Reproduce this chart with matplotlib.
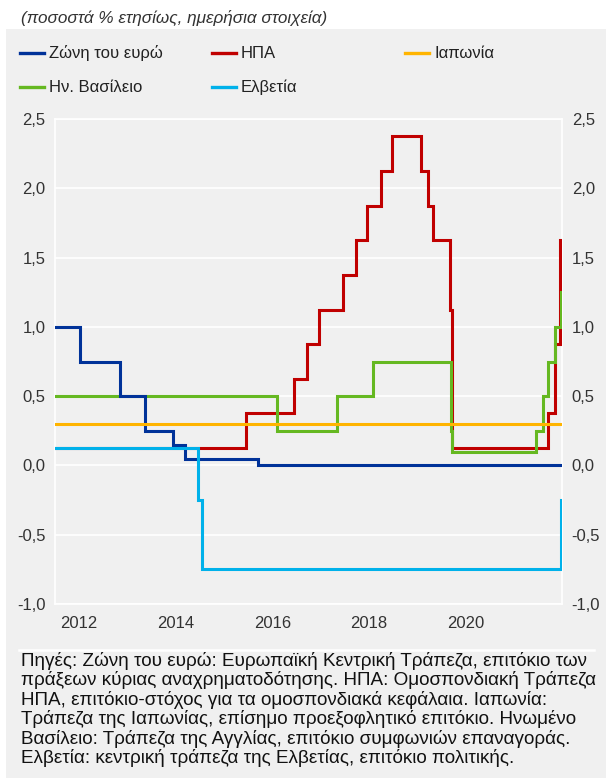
import matplotlib
matplotlib.use("Agg")
import matplotlib.pyplot as plt
from matplotlib.lines import Line2D
from matplotlib.patches import Rectangle
import pandas as pd

# ---- data: policy rates (%), step changes ----
euro_dates = ["2012-01-01", "2012-07-11", "2013-05-08", "2013-11-13", "2014-06-11",
              "2014-09-10", "2016-03-16", "2022-06-27"]
euro_vals = [1.00, 0.75, 0.50, 0.25, 0.15, 0.05, 0.00, 0.00]

us_dates = ["2012-01-01", "2015-12-16", "2016-12-14", "2017-03-15", "2017-06-14",
            "2017-12-13", "2018-03-21", "2018-06-13", "2018-09-26", "2018-12-19",
            "2019-07-31", "2019-09-18", "2019-10-30", "2020-03-03", "2020-03-15",
            "2022-03-16", "2022-05-04", "2022-06-15", "2022-06-27"]
us_vals = [0.125, 0.375, 0.625, 0.875, 1.125, 1.375, 1.625, 1.875, 2.125, 2.375,
           2.125, 1.875, 1.625, 1.125, 0.125, 0.375, 0.875, 1.625, 1.625]

japan_dates = ["2012-01-01", "2022-06-27"]
japan_vals = [0.30, 0.30]

uk_dates = ["2012-01-01", "2016-08-04", "2017-11-02", "2018-08-02", "2020-03-11",
            "2020-03-19", "2021-12-16", "2022-02-03", "2022-03-17", "2022-05-05",
            "2022-06-22", "2022-06-27"]
uk_vals = [0.50, 0.25, 0.50, 0.75, 0.25, 0.10, 0.25, 0.50, 0.75, 1.00, 1.25, 1.25]

swiss_dates = ["2012-01-01", "2014-12-18", "2015-01-15", "2022-06-16", "2022-06-27"]
swiss_vals = [0.125, -0.25, -0.75, -0.25, -0.25]

labels = ["Ζώνη του ευρώ", "ΗΠΑ", "Ιαπωνία", "Ην. Βασίλειο", "Ελβετία"]
colors = ["#003299", "#c00000", "#ffb400", "#65b821", "#00b1ea"]

year_labels = ["2012", "2014", "2016", "2018", "2020"]
y_ticks = [-1.0, -0.5, 0.0, 0.5, 1.0, 1.5, 2.0, 2.5]

title = "(ποσοστά % ετησίως, ημερήσια στοιχεία)"
footer = ("Πηγές: Ζώνη του ευρώ: Ευρωπαϊκή Κεντρική Τράπεζα, επιτόκιο των\n"
          "πράξεων κύριας αναχρηματοδότησης. ΗΠΑ: Ομοσπονδιακή Τράπεζα\n"
          "ΗΠΑ, επιτόκιο-στόχος για τα ομοσπονδιακά κεφάλαια. Ιαπωνία:\n"
          "Τράπεζα της Ιαπωνίας, επίσημο προεξοφλητικό επιτόκιο. Ηνωμένο\n"
          "Βασίλειο: Τράπεζα της Αγγλίας, επιτόκιο συμφωνιών επαναγοράς.\n"
          "Ελβετία: κεντρική τράπεζα της Ελβετίας, επιτόκιο πολιτικής.")

plt.rcParams["font.family"] = ["Liberation Sans", "DejaVu Sans"]
BG = "#f0f0f0"
TXT = "#333333"

W, H = 606, 778
fig = plt.figure(figsize=(W / 100, H / 100), dpi=100)
fig.patch.set_facecolor("white")

# gray panel behind legend, chart and footer
fig.patches.append(Rectangle((6 / W, 0), 1 - 6 / W, 1 - 29 / H,
                             transform=fig.transFigure, facecolor=BG,
                             edgecolor="none", zorder=-10))

fig.text(21 / W, 1 - 18 / H, title, fontsize=12.3, style="italic",
         color=TXT, va="center", ha="left")

# ---- legend (row-major, 3 columns) ----
leg_x = [20, 212, 405]
leg_y = [53, 87]
for i, (lab, col) in enumerate(zip(labels, colors)):
    r, c = divmod(i, 3)
    x0, y0 = leg_x[c], leg_y[r]
    fig.add_artist(Line2D([x0 / W, (x0 + 24) / W], [1 - y0 / H, 1 - y0 / H],
                          color=col, lw=2.4, transform=fig.transFigure))
    fig.text((x0 + 29) / W, 1 - y0 / H, lab, fontsize=12, color="#222222",
             va="center", ha="left")

# ---- chart ----
ax = fig.add_axes([55 / W, 1 - 604 / H, (562 - 55) / W, (604 - 119) / H])
ax.set_facecolor(BG)

series = [
    (us_dates, us_vals, colors[1]),
    (uk_dates, uk_vals, colors[3]),
    (euro_dates, euro_vals, colors[0]),
    (swiss_dates, swiss_vals, colors[4]),
    (japan_dates, japan_vals, colors[2]),
]
for d, v, col in series:
    ax.step(pd.to_datetime(d), v, where="post", color=col, lw=2.2,
            solid_joinstyle="miter")

ax.set_xlim(pd.Timestamp("2012-01-01"), pd.Timestamp("2022-06-27"))
ax.set_ylim(-1.0, 2.5)
ax.set_yticks(y_ticks)
fmt = lambda v, p: f"{v:.1f}".replace(".", ",")
ax.yaxis.set_major_formatter(plt.FuncFormatter(fmt))
ax.grid(axis="y", color="white", lw=1.2)
ax.set_axisbelow(True)

ax.set_xticks([pd.Timestamp(f"{y}-07-01") for y in year_labels])
ax.set_xticklabels(year_labels)
ax.tick_params(axis="both", length=0, labelsize=12, labelcolor=TXT)
ax.tick_params(axis="x", pad=9)
ax.tick_params(axis="y", pad=7)
for s in ax.spines.values():
    s.set_color("white")
    s.set_linewidth(1.2)
    s.set_zorder(0.5)

ax2 = ax.twinx()
ax2.set_ylim(ax.get_ylim())
ax2.set_yticks(y_ticks)
ax2.yaxis.set_major_formatter(plt.FuncFormatter(fmt))
ax2.tick_params(axis="y", length=0, labelsize=12, labelcolor=TXT, pad=7)
for s in ax2.spines.values():
    s.set_visible(False)

# separator and footer
fig.add_artist(Line2D([19 / W, 594 / W], [1 - 650 / H, 1 - 650 / H],
                      color="white", lw=1.8, transform=fig.transFigure))
fig.text(21 / W, 1 - 652 / H, footer, fontsize=13.6, color="#111111",
         va="top", ha="left", linespacing=1.1)

fig.savefig("out.png", dpi=100)
